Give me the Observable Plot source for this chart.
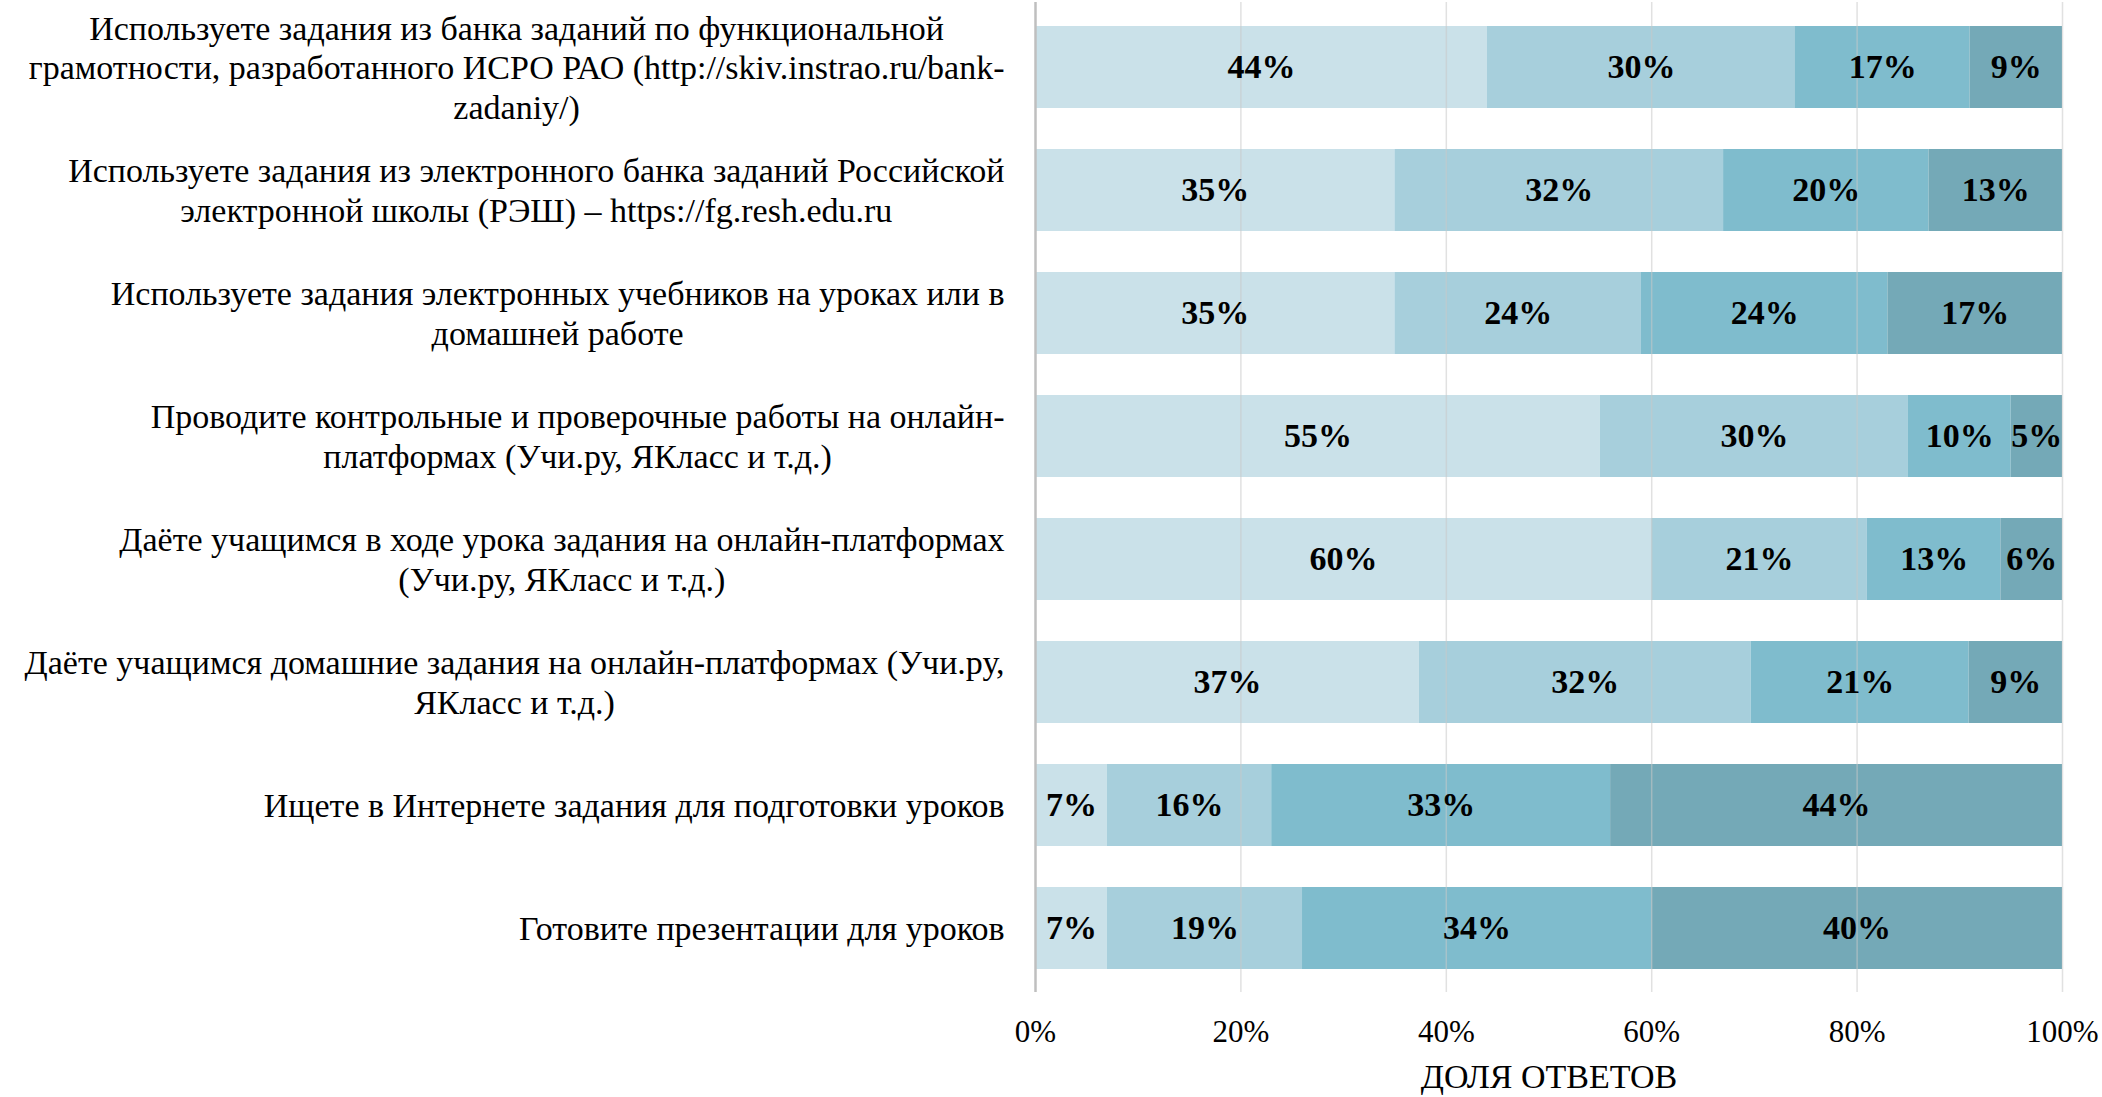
<!DOCTYPE html>
<html>
<head>
<meta charset="utf-8">
<script src="https://cdn.jsdelivr.net/npm/d3@7"></script>
<script src="https://cdn.jsdelivr.net/npm/@observablehq/plot@0.6"></script>
<style>
  html, body { margin: 0; padding: 0; background: #fff; }
  svg { display: block; }
</style>
</head>
<body>
<div id="chart"></div>
<script>
const categories = [
  "Используете задания из банка заданий по функциональной\nграмотности, разработанного ИСРО РАО (http://skiv.instrao.ru/bank-\nzadaniy/)",
  "Используете задания из электронного банка заданий Российской\nэлектронной школы (РЭШ) – https://fg.resh.edu.ru",
  "Используете задания электронных учебников на уроках или в\nдомашней работе",
  "Проводите контрольные и проверочные работы на онлайн-\nплатформах (Учи.ру, ЯКласс и т.д.)",
  "Даёте учащимся в ходе урока задания на онлайн-платформах\n(Учи.ру, ЯКласс и т.д.)",
  "Даёте учащимся домашние задания на онлайн-платформах (Учи.ру,\nЯКласс и т.д.)",
  "Ищете в Интернете задания для подготовки уроков",
  "Готовите презентации для уроков"
];
const seriesNames = ["Вариант 1", "Вариант 2", "Вариант 3", "Вариант 4"];
const series1 = [44, 35, 35, 55, 60, 37, 7, 7];
const series2 = [30, 32, 24, 30, 21, 32, 16, 19];
const series3 = [17, 20, 24, 10, 13, 21, 33, 34];
const series4 = [9, 13, 17, 5, 6, 9, 44, 40];
const seriesColors = ["#cae1e9", "#a7cfdc", "#7fbccd", "#74a9b7"];
const xTicks = [0, 0.2, 0.4, 0.6, 0.8, 1];
const gridTicks = [0.2, 0.4, 0.6, 0.8, 1];
const axisTitle = "ДОЛЯ ОТВЕТОВ";

const allSeries = [series1, series2, series3, series4];
const table = [];
categories.forEach((c, i) => {
  allSeries.forEach((s, k) => table.push({cat: c, series: seriesNames[k], value: s[i]}));
});

const FONT = "'Liberation Serif', 'Times New Roman', serif";
const FS_LABEL = 34;
const FS_TICK = 31;
const ctx = document.createElement("canvas").getContext("2d");
ctx.font = `${FS_LABEL}px ${FONT}`;
const labelWidth = (t) => Math.max(...t.split("\n").map(l => ctx.measureText(l).width));
const GAP = 31;

const labelMarks = categories.map(c => Plot.text([c], {
  y: d => d, text: d => d, frameAnchor: "left", textAnchor: "middle", lineAnchor: "middle",
  lineHeight: 1.16, fontSize: FS_LABEL, fill: "#000", dx: -(GAP + labelWidth(c) / 2), dy: -1
}));

const chart = Plot.plot({
  width: 2102,
  height: 1097,
  marginLeft: 1035,
  marginRight: 40,
  marginTop: 2,
  marginBottom: 105,
  style: {fontFamily: FONT, fontSize: FS_TICK + "px", background: "#fff", color: "#000"},
  x: {domain: [0, 1], axis: null},
  y: {domain: categories, axis: null, paddingInner: 0.337, paddingOuter: 0.17},
  color: {domain: seriesNames, range: seriesColors},
  marks: [
    Plot.barX(table, Plot.stackX({offset: "normalize", x: "value", y: "cat", fill: "series", z: "series"})),
    Plot.ruleX(gridTicks, {stroke: "#c8c8c8", strokeOpacity: 0.55, strokeWidth: 1.5}),
    Plot.ruleX([0], {stroke: "#bfbfbf", strokeWidth: 2.5}),
    Plot.text(table, Plot.stackX({offset: "normalize", x: "value", y: "cat", z: "series",
      text: d => d.value + "%", fontWeight: "bold", fontSize: FS_LABEL, fill: "#000"})),
    Plot.axisX(xTicks, {tickSize: 0, tickPadding: 27, tickFormat: d3.format(".0%"), fontSize: FS_TICK, label: null, fill: "#000"}),
    Plot.text([axisTitle], {frameAnchor: "bottom", dy: 85, lineAnchor: "middle", fontSize: FS_LABEL, fill: "#000"}),
    ...labelMarks
  ]
});
document.getElementById("chart").appendChild(chart);
</script>
</body>
</html>
